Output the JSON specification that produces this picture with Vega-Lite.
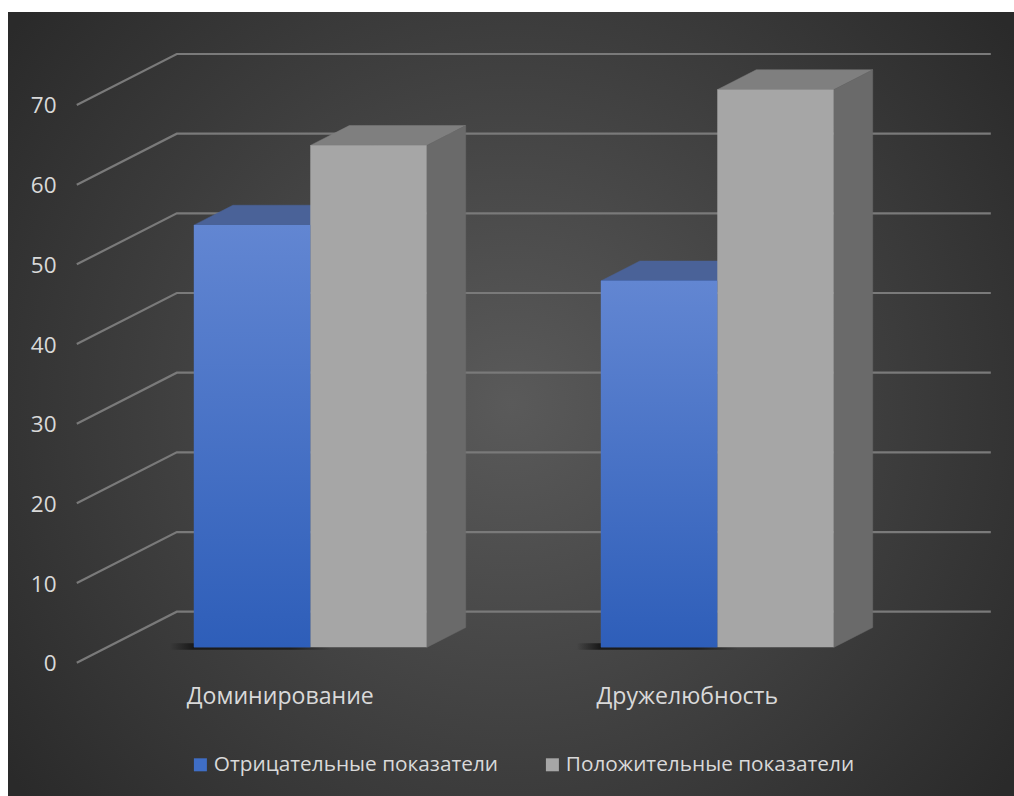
{
  "$schema": "https://vega.github.io/schema/vega-lite/v6.json",
  "width": 1006,
  "height": 784,
  "padding": {"left": 8, "top": 12, "right": 0, "bottom": 0},
  "autosize": "none",
  "background": "white",
  "view": {
    "stroke": null,
    "fill": {"gradient": "radial", "x1": 0.5, "y1": 0.5, "r1": 0, "x2": 0.5, "y2": 0.5, "r2": 0.62,
      "stops": [{"offset": 0, "color": "#5a5a5a"}, {"offset": 1, "color": "#2a2a2a"}]}
  },
  "config": {"font": "Open Sans", "text": {"font": "Open Sans"}},
  "datasets": {
    "bars": [
      {"group": "Доминирование", "series": "Отрицательные показатели", "value": 53, "from": 0.714, "to": 1},
      {"group": "Доминирование", "series": "Положительные показатели", "value": 63, "from": 1, "to": 1.286},
      {"group": "Дружелюбность", "series": "Отрицательные показатели", "value": 46, "from": 1.714, "to": 2},
      {"group": "Дружелюбность", "series": "Положительные показатели", "value": 70, "from": 2, "to": 2.286}
    ],
    "groups": [
      {"group": "Доминирование", "center": 1, "level": -4.3},
      {"group": "Дружелюбность", "center": 2, "level": -4.3}
    ],
    "floorShadow": [
      {"group": "Доминирование", "from": 0.655, "to": 1.05, "low": -0.3, "high": 0.5},
      {"group": "Дружелюбность", "from": 1.655, "to": 2.05, "low": -0.3, "high": 0.5}
    ],
    "wall": [
      {"tick": 0, "s": 0.5, "depth": 0, "n": 1}, {"tick": 0, "s": 0.5, "depth": 100, "n": 2}, {"tick": 0, "s": 2.5, "depth": 100, "n": 3},
      {"tick": 10, "s": 0.5, "depth": 0, "n": 1}, {"tick": 10, "s": 0.5, "depth": 100, "n": 2}, {"tick": 10, "s": 2.5, "depth": 100, "n": 3},
      {"tick": 20, "s": 0.5, "depth": 0, "n": 1}, {"tick": 20, "s": 0.5, "depth": 100, "n": 2}, {"tick": 20, "s": 2.5, "depth": 100, "n": 3},
      {"tick": 30, "s": 0.5, "depth": 0, "n": 1}, {"tick": 30, "s": 0.5, "depth": 100, "n": 2}, {"tick": 30, "s": 2.5, "depth": 100, "n": 3},
      {"tick": 40, "s": 0.5, "depth": 0, "n": 1}, {"tick": 40, "s": 0.5, "depth": 100, "n": 2}, {"tick": 40, "s": 2.5, "depth": 100, "n": 3},
      {"tick": 50, "s": 0.5, "depth": 0, "n": 1}, {"tick": 50, "s": 0.5, "depth": 100, "n": 2}, {"tick": 50, "s": 2.5, "depth": 100, "n": 3},
      {"tick": 60, "s": 0.5, "depth": 0, "n": 1}, {"tick": 60, "s": 0.5, "depth": 100, "n": 2}, {"tick": 60, "s": 2.5, "depth": 100, "n": 3},
      {"tick": 70, "s": 0.5, "depth": 0, "n": 1}, {"tick": 70, "s": 0.5, "depth": 100, "n": 2}, {"tick": 70, "s": 2.5, "depth": 100, "n": 3}
    ],
    "faces": [
      {"face": "a", "kind": "blueTop", "s": 0.714, "value": 53, "depth": 30, "n": 1},
      {"face": "a", "kind": "blueTop", "s": 1, "value": 53, "depth": 30, "n": 2},
      {"face": "a", "kind": "blueTop", "s": 1, "value": 53, "depth": 69, "n": 3},
      {"face": "a", "kind": "blueTop", "s": 0.714, "value": 53, "depth": 69, "n": 4},
      {"face": "b", "kind": "blueTop", "s": 1.714, "value": 46, "depth": 30, "n": 1},
      {"face": "b", "kind": "blueTop", "s": 2, "value": 46, "depth": 30, "n": 2},
      {"face": "b", "kind": "blueTop", "s": 2, "value": 46, "depth": 69, "n": 3},
      {"face": "b", "kind": "blueTop", "s": 1.714, "value": 46, "depth": 69, "n": 4},
      {"face": "c", "kind": "grayTop", "s": 1, "value": 63, "depth": 30, "n": 1},
      {"face": "c", "kind": "grayTop", "s": 1.286, "value": 63, "depth": 30, "n": 2},
      {"face": "c", "kind": "grayTop", "s": 1.286, "value": 63, "depth": 69, "n": 3},
      {"face": "c", "kind": "grayTop", "s": 1, "value": 63, "depth": 69, "n": 4},
      {"face": "d", "kind": "grayTop", "s": 2, "value": 70, "depth": 30, "n": 1},
      {"face": "d", "kind": "grayTop", "s": 2.286, "value": 70, "depth": 30, "n": 2},
      {"face": "d", "kind": "grayTop", "s": 2.286, "value": 70, "depth": 69, "n": 3},
      {"face": "d", "kind": "grayTop", "s": 2, "value": 70, "depth": 69, "n": 4},
      {"face": "e", "kind": "graySide", "s": 1.286, "value": 63, "depth": 30, "n": 1},
      {"face": "e", "kind": "graySide", "s": 1.286, "value": 63, "depth": 69, "n": 2},
      {"face": "e", "kind": "graySide", "s": 1.286, "value": 0, "depth": 69, "n": 3},
      {"face": "e", "kind": "graySide", "s": 1.286, "value": 0, "depth": 30, "n": 4},
      {"face": "f", "kind": "graySide", "s": 2.286, "value": 70, "depth": 30, "n": 1},
      {"face": "f", "kind": "graySide", "s": 2.286, "value": 70, "depth": 69, "n": 2},
      {"face": "f", "kind": "graySide", "s": 2.286, "value": 0, "depth": 69, "n": 3},
      {"face": "f", "kind": "graySide", "s": 2.286, "value": 0, "depth": 30, "n": 4}
    ]
  },
  "layer": [
    {
      "data": {"name": "wall"},
      "transform": [
        {"calculate": "datum.s + datum.depth / 407", "as": "px"},
        {"calculate": "datum.tick + datum.depth * 0.064", "as": "py"}
      ],
      "mark": {"type": "line", "stroke": "#7a7a7a", "strokeWidth": 2.2},
      "encoding": {
        "x": {"field": "px", "type": "quantitative", "scale": {"domain": [0.331, 2.8027], "nice": false, "zero": false}, "axis": null},
        "y": {"field": "py", "type": "quantitative", "scale": {"domain": [-16.73, 81.67], "nice": false, "zero": false},
          "axis": {"values": [0, 10, 20, 30, 40, 50, 60, 70], "title": null, "domain": false, "ticks": false, "grid": false,
            "labelPadding": -48, "labelAlign": "right", "labelColor": "#d9d9d9", "labelFontSize": 22.5, "labelFont": "Open Sans", "labelOffset": 1}},
        "detail": {"field": "tick"},
        "order": {"field": "n", "type": "quantitative"}
      }
    },
    {
      "data": {"name": "floorShadow"},
      "mark": {"type": "rect", "xOffset": 30, "x2Offset": 30, "yOffset": -15.4, "y2Offset": -15.4,
        "fill": {"gradient": "linear", "x1": 0, "y1": 0, "x2": 1, "y2": 0, "stops": [
          {"offset": 0, "color": "rgba(24,24,24,0)"}, {"offset": 0.14, "color": "#1a1a1a"}, {"offset": 0.75, "color": "#1e1e1e"}, {"offset": 1, "color": "rgba(24,24,24,0)"}]}},
      "encoding": {
        "x": {"field": "from", "type": "quantitative"},
        "x2": {"field": "to"},
        "y": {"field": "low", "type": "quantitative"},
        "y2": {"field": "high"}
      }
    },
    {
      "data": {"name": "faces"},
      "transform": [
        {"filter": "datum.kind === 'blueTop'"},
        {"calculate": "datum.s + datum.depth / 407", "as": "px"},
        {"calculate": "datum.value + datum.depth * 0.064", "as": "py"}
      ],
      "mark": {"type": "line", "interpolate": "linear-closed", "fill": "#4a6298", "stroke": "#4a6298", "strokeWidth": 0.5},
      "encoding": {
        "x": {"field": "px", "type": "quantitative"},
        "y": {"field": "py", "type": "quantitative"},
        "detail": {"field": "face"},
        "order": {"field": "n", "type": "quantitative"}
      }
    },
    {
      "data": {"name": "faces"},
      "transform": [
        {"filter": "datum.kind === 'grayTop'"},
        {"calculate": "datum.s + datum.depth / 407", "as": "px"},
        {"calculate": "datum.value + datum.depth * 0.064", "as": "py"}
      ],
      "mark": {"type": "line", "interpolate": "linear-closed", "fill": "#7f7f7f", "stroke": "#7f7f7f", "strokeWidth": 0.5},
      "encoding": {
        "x": {"field": "px", "type": "quantitative"},
        "y": {"field": "py", "type": "quantitative"},
        "detail": {"field": "face"},
        "order": {"field": "n", "type": "quantitative"}
      }
    },
    {
      "data": {"name": "faces"},
      "transform": [
        {"filter": "datum.kind === 'graySide'"},
        {"calculate": "datum.s + datum.depth / 407", "as": "px"},
        {"calculate": "datum.value + datum.depth * 0.064", "as": "py"}
      ],
      "mark": {"type": "line", "interpolate": "linear-closed", "fill": "#6a6a6a", "stroke": "#6a6a6a", "strokeWidth": 0.5},
      "encoding": {
        "x": {"field": "px", "type": "quantitative"},
        "y": {"field": "py", "type": "quantitative"},
        "detail": {"field": "face"},
        "order": {"field": "n", "type": "quantitative"}
      }
    },
    {
      "data": {"name": "bars"},
      "mark": {"type": "rect", "xOffset": 30, "x2Offset": 30, "yOffset": -15.4, "y2Offset": -15.4},
      "encoding": {
        "x": {"field": "from", "type": "quantitative"},
        "x2": {"field": "to"},
        "y": {"field": "value", "type": "quantitative"},
        "y2": {"datum": 0},
        "color": {
          "field": "series", "type": "nominal",
          "scale": {
            "domain": ["Отрицательные показатели", "Положительные показатели"],
            "range": ["#3f6ec6", "#a6a6a6"]
          },
          "legend": {
            "title": null, "orient": "none", "legendX": 182, "legendY": 742, "direction": "horizontal",
            "symbolType": "square", "symbolSize": 169, "symbolStrokeWidth": 0, "labelFontSize": 20.8, "labelFont": "Open Sans",
            "labelColor": "#d9d9d9", "columnPadding": 43, "labelLimit": 400, "labelOffset": 3
          }
        }
      }
    },
    {
      "data": {"name": "bars"},
      "transform": [{"filter": "datum.series === 'Отрицательные показатели'"}],
      "mark": {"type": "rect", "xOffset": 30, "x2Offset": 30, "yOffset": -15.4, "y2Offset": -15.4,
        "fill": {"gradient": "linear", "x1": 0, "y1": 0, "x2": 0, "y2": 1, "stops": [{"offset": 0, "color": "#6286d2"}, {"offset": 1, "color": "#2e5eb9"}]}},
      "encoding": {
        "x": {"field": "from", "type": "quantitative"},
        "x2": {"field": "to"},
        "y": {"field": "value", "type": "quantitative"},
        "y2": {"datum": 0}
      }
    },
    {
      "data": {"name": "groups"},
      "mark": {"type": "text", "fontSize": 23.1, "font": "Open Sans", "fill": "#d9d9d9", "align": "center", "baseline": "middle"},
      "encoding": {
        "x": {"field": "center", "type": "quantitative"},
        "y": {"field": "level", "type": "quantitative"},
        "text": {"field": "group"}
      }
    }
  ]
}
